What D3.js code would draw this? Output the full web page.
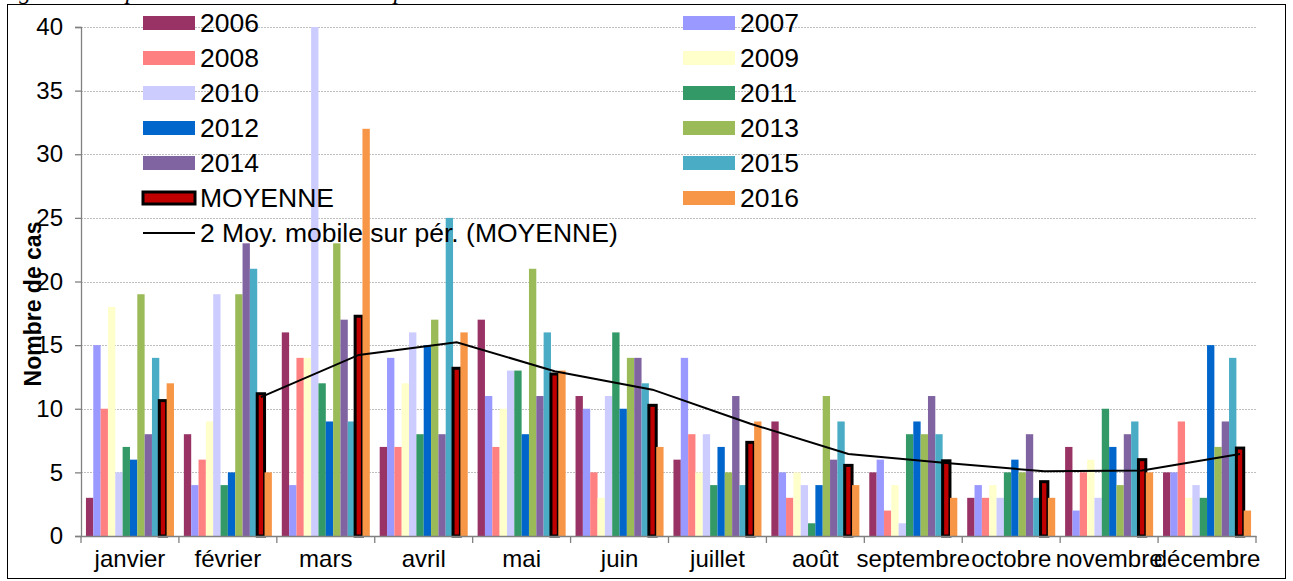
<!DOCTYPE html>
<html>
<head>
<meta charset="utf-8">
<script src="https://cdn.jsdelivr.net/npm/d3@7"></script>
<style>
  body { margin: 0; background: #fff; }
  svg { display: block; font-family: "Liberation Sans", Arial, sans-serif; }
</style>
</head>
<body>
<div id="chart"></div>
<script>
var width = 1293;
var height = 581;

// months and series
var months = ["janvier", "février", "mars", "avril", "mai", "juin", "juillet", "août", "septembre", "octobre", "novembre", "décembre"];
var seriesNames = ["2006", "2007", "2008", "2009", "2010", "2011", "2012", "2013", "2014", "2015", "MOYENNE", "2016"];

var y2006 = [3, 8, 16, 7, 17, 11, 6, 9, 5, 3, 7, 5];
var y2007 = [15, 4, 4, 14, 11, 10, 14, 5, 6, 4, 2, 5];
var y2008 = [10, 6, 14, 7, 7, 5, 8, 3, 2, 3, 5, 9];
var y2009 = [18, 9, 14, 12, 10, 3, 5, 5, 4, 4, 6, 3];
var y2010 = [5, 19, 40, 16, 13, 11, 8, 4, 1, 3, 3, 4];
var y2011 = [7, 4, 12, 8, 13, 16, 4, 1, 8, 5, 10, 3];
var y2012 = [6, 5, 9, 15, 8, 10, 7, 4, 9, 6, 7, 15];
var y2013 = [19, 19, 23, 17, 21, 14, 5, 11, 8, 5, 4, 7];
var y2014 = [8, 23, 17, 8, 11, 14, 11, 6, 11, 8, 8, 9];
var y2015 = [14, 21, 9, 25, 16, 12, 4, 9, 8, 3, 9, 14];
var moyenne = [10.64, 11.18, 17.27, 13.18, 12.73, 10.27, 7.36, 5.55, 5.91, 4.27, 6.0, 6.91];
var y2016 = [12, 5, 32, 16, 13, 7, 9, 4, 3, 3, 5, 2];

// 2-period moving average of MOYENNE (from février)
var movingAvg = [null, 10.91, 14.23, 15.23, 12.95, 11.5, 8.82, 6.45, 5.73, 5.09, 5.14, 6.45];

var yTicks = [0, 5, 10, 15, 20, 25, 30, 35, 40];

var colors = ["#993366", "#9999FF", "#FF8080", "#FFFFCC", "#CCCCFF", "#339966",
	"#0066CC", "#9BBB59", "#8064A2", "#4BACC6", "#C00000", "#F79646"];

var seriesValues = [y2006, y2007, y2008, y2009, y2010, y2011, y2012, y2013, y2014, y2015, moyenne, y2016];

var margins = { left: 81, right: 37, top: 27, bottom: 45 };

var svg = d3
	.select("#chart")
	.append("svg")
	.attr("width", width)
	.attr("height", height);

// title sits above the frame, only its descenders show (as in the source)
svg.append("text")
	.attr("x", -2)
	.attr("y", -1)
	.attr("font-family", "'Liberation Serif', 'Times New Roman', serif")
	.attr("font-style", "italic")
	.attr("font-size", "24px")
	.attr("fill", "#000")
	.text("Figure 3 : Répartition mensuelle des cas par année");

// outer frame
svg.append("rect")
	.attr("x", 7.5)
	.attr("y", 4.5)
	.attr("width", 1278)
	.attr("height", 574)
	.attr("fill", "none")
	.attr("stroke", "#000")
	.attr("stroke-width", 1);

var x0 = d3.scaleBand()
	.domain(months)
	.range([margins.left, width - margins.right])
	.paddingInner(0)
	.paddingOuter(0);

var x1 = d3.scaleBand()
	.domain(seriesNames)
	.range([0, x0.bandwidth()])
	.paddingInner(0)
	.paddingOuter(0.675);

var y = d3.scaleLinear()
	.domain([0, 40])
	.range([height - margins.bottom, margins.top]);

// gridlines
svg.append("g")
	.selectAll("line")
	.data(yTicks.slice(1))
	.enter()
	.append("line")
	.attr("x1", margins.left)
	.attr("x2", width - margins.right)
	.attr("y1", (d) => Math.round(y(d)) + 0.5)
	.attr("y2", (d) => Math.round(y(d)) + 0.5)
	.attr("stroke", "#BFBFBF")
	.attr("stroke-width", 1)
	.attr("stroke-dasharray", "2,1");

// bars
var groups = svg.append("g")
	.selectAll("g")
	.data(months)
	.enter()
	.append("g")
	.attr("transform", (d) => `translate(${x0(d)},0)`);

groups.selectAll("rect")
	.data((m, i) => seriesNames.map((s, k) => ({ s: s, k: k, v: seriesValues[k][i] })))
	.enter()
	.append("rect")
	.attr("x", (d) => x1(d.s))
	.attr("y", (d) => y(d.v))
	.attr("width", x1.bandwidth())
	.attr("height", (d) => y(0) - y(d.v))
	.attr("fill", (d) => colors[d.k])
	.attr("stroke", (d) => (d.s === "MOYENNE" ? "#000" : "none"))
	.attr("stroke-width", (d) => (d.s === "MOYENNE" ? 3 : 0));

// moving average line
var lineData = months
	.map((m, i) => ({ m: m, v: movingAvg[i] }))
	.filter((d) => d.v !== null);

var line = d3.line()
	.x((d) => x0(d.m) + x1("MOYENNE") + x1.bandwidth() / 2)
	.y((d) => y(d.v));

svg.append("path")
	.datum(lineData)
	.attr("d", line)
	.attr("fill", "none")
	.attr("stroke", "#000")
	.attr("stroke-width", 2);

// y axis
var yAxis = svg.append("g")
	.attr("transform", `translate(${margins.left},0)`)
	.call(d3.axisLeft(y).tickValues(yTicks).tickSize(6).tickPadding(12));
yAxis.select(".domain").attr("stroke", "#808080").attr("stroke-width", 1.3);
yAxis.selectAll(".tick line").attr("stroke", "#808080").attr("stroke-width", 1.3);
yAxis.selectAll("text")
	.attr("font-family", "'Liberation Sans', Arial, sans-serif")
	.attr("font-size", "24px")
	.attr("fill", "#000");

// x axis
var xAxis = svg.append("g")
	.attr("transform", `translate(0,${y(0)})`)
	.call(d3.axisBottom(x0).tickSize(0).tickPadding(14).tickSizeOuter(0));
xAxis.select(".domain").attr("stroke", "#808080").attr("stroke-width", 1.3);
xAxis.selectAll("text")
	.attr("font-family", "'Liberation Sans', Arial, sans-serif")
	.attr("font-size", "24px")
	.attr("fill", "#000");

// boundary ticks between months
var bounds = months.map((m) => x0(m)).concat([width - margins.right]);
xAxis.append("g")
	.selectAll("line")
	.data(bounds)
	.enter()
	.append("line")
	.attr("x1", (d) => d)
	.attr("x2", (d) => d)
	.attr("y1", 0)
	.attr("y2", 7)
	.attr("stroke", "#808080")
	.attr("stroke-width", 1.3);

// y label
svg.append("text")
	.attr("transform", "translate(41,304) rotate(-90)")
	.attr("text-anchor", "middle")
	.attr("font-size", "23px")
	.attr("font-weight", "bold")
	.attr("fill", "#000")
	.text("Nombre de cas");

// legend
var legendLeft = ["2006", "2008", "2010", "2012", "2014", "MOYENNE"];
var legendRight = ["2007", "2009", "2011", "2013", "2015", "2016"];
var legendRowY = [23, 58, 93, 128, 163, 198];

function drawLegendCol(names, sx) {
	var g = svg.append("g");
	var items = g.selectAll("g")
		.data(names)
		.enter()
		.append("g")
		.attr("transform", (d, i) => `translate(${sx},${legendRowY[i]})`);
	items.append("rect")
		.attr("x", 0)
		.attr("y", (d) => (d === "MOYENNE" ? -6 : -7))
		.attr("width", 52)
		.attr("height", (d) => (d === "MOYENNE" ? 12 : 14))
		.attr("fill", (d) => colors[seriesNames.indexOf(d)])
		.attr("stroke", (d) => (d === "MOYENNE" ? "#000" : "none"))
		.attr("stroke-width", 3);
	items.append("text")
		.attr("x", 57)
		.attr("y", 0)
		.attr("dy", "0.35em")
		.attr("font-size", "26.5px")
		.attr("fill", "#000")
		.text((d) => d);
}
drawLegendCol(legendLeft, 143);
drawLegendCol(legendRight, 683);

var lineLegend = svg.append("g").attr("transform", "translate(143,233)");
lineLegend.append("line")
	.attr("x1", 0)
	.attr("x2", 52)
	.attr("y1", 0)
	.attr("y2", 0)
	.attr("stroke", "#000")
	.attr("stroke-width", 2);
lineLegend.append("text")
	.attr("x", 57)
	.attr("y", 0)
	.attr("dy", "0.35em")
	.attr("font-size", "26.5px")
	.attr("fill", "#000")
	.text("2 Moy. mobile sur pér. (MOYENNE)");
</script>
</body>
</html>
